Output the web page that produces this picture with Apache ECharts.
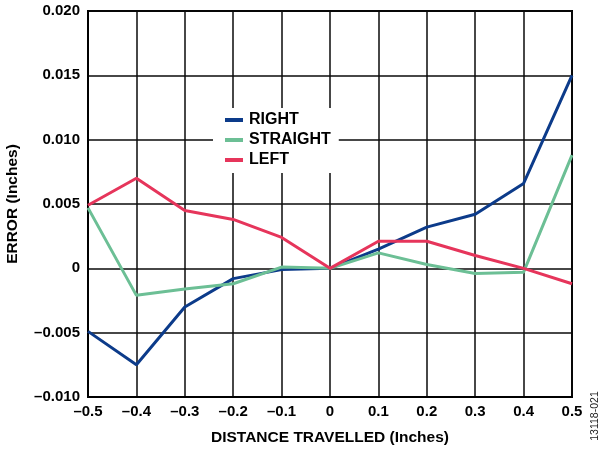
<!DOCTYPE html>
<html>
<head>
<meta charset="utf-8">
<script src="https://cdn.jsdelivr.net/npm/echarts@6/dist/echarts.min.js"></script>
<style>html,body{margin:0;padding:0;background:#fff}#c{width:602px;height:449px}</style>
</head>
<body>
<div id="c"></div>
<script>
const categories = ['-0.5','-0.4','-0.3','-0.2','-0.1','0','0.1','0.2','0.3','0.4','0.5'];
const rightVals = [-0.0049, -0.0075, -0.0030, -0.0008, -0.0001, 0, 0.0015, 0.0032, 0.0042, 0.0066, 0.0150];
const straightVals = [0.0047, -0.0021, -0.0016, -0.0012, 0.0001, 0, 0.0012, 0.0003, -0.0004, -0.0003, 0.0088];
const leftVals = [0.0049, 0.0070, 0.0045, 0.0038, 0.0024, 0, 0.0021, 0.0021, 0.0010, 0.0000, -0.0012];
const yTicks = {min: -0.010, max: 0.020, interval: 0.005};

const FONT = 'Liberation Sans, Arial, sans-serif';
function dash(s){ return s.replace('-', '\u2013'); }
function fmtY(v){
  if (Math.abs(v) < 1e-9) return '0';
  return dash(v.toFixed(3));
}
const chart = echarts.init(document.getElementById('c'), null, {renderer:'canvas'});
chart.setOption({
  animation: false,
  backgroundColor: '#fff',
  grid: {left: 88, right: 30, top: 11, bottom: 52, containLabel: false, outerBoundsMode: 'none',
         show: true, borderColor: '#000', borderWidth: 2, backgroundColor: 'transparent'},
  legend: {
    orient: 'vertical', left: 213, top: 108,
    backgroundColor: '#fff', padding: [4, 8, 5, 12],
    itemWidth: 18, itemHeight: 4, itemGap: 4, icon: 'rect',
    textStyle: {fontFamily: FONT, fontWeight: 'bold', fontSize: 16, color: '#000', padding: [0,0,0,1]},
    data: ['RIGHT','STRAIGHT','LEFT'],
    z: 10
  },
  xAxis: {
    type: 'category', data: categories, boundaryGap: false,
    name: 'DISTANCE TRAVELLED (Inches)', nameLocation: 'middle', nameGap: 33,
    nameTextStyle: {fontFamily: FONT, fontWeight: 'bold', fontSize: 15.5, color: '#000'},
    axisLine: {onZero: false, lineStyle: {color: '#000', width: 2}},
    axisTick: {show: false},
    axisLabel: {fontFamily: FONT, fontWeight: 'bold', fontSize: 15, color: '#000', margin: 7, formatter: v => dash(v)},
    splitLine: {show: true, lineStyle: {color: '#0a0a0a', width: 1.5}}
  },
  yAxis: {
    type: 'value', min: yTicks.min, max: yTicks.max, interval: yTicks.interval,
    name: 'ERROR (Inches)', nameLocation: 'middle', nameGap: 67,
    nameTextStyle: {fontFamily: FONT, fontWeight: 'bold', fontSize: 15.5, color: '#000'},
    axisLine: {show: true, onZero: false, lineStyle: {color: '#000', width: 2}},
    axisTick: {show: false},
    axisLabel: {fontFamily: FONT, fontWeight: 'bold', fontSize: 15, color: '#000', margin: 8, formatter: fmtY},
    splitLine: {show: true, lineStyle: {color: '#0a0a0a', width: 1.5}}
  },
  series: [
    {name: 'RIGHT', type: 'line', data: rightVals, symbol: 'none', color: '#0c3b8a', lineStyle: {width: 3}, z: 3},
    {name: 'STRAIGHT', type: 'line', data: straightVals, symbol: 'none', color: '#6cbf95', lineStyle: {width: 3}, z: 4},
    {name: 'LEFT', type: 'line', data: leftVals, symbol: 'none', color: '#e6355b', lineStyle: {width: 3}, z: 5}
  ],
  graphic: [{
    type: 'text', x: 595, y: 416, rotation: Math.PI/2,
    style: {text: '13118-021', fontFamily: FONT, fontSize: 10.5, fill: '#222', align: 'center', verticalAlign: 'middle'}
  }]
});
</script>
</body>
</html>
